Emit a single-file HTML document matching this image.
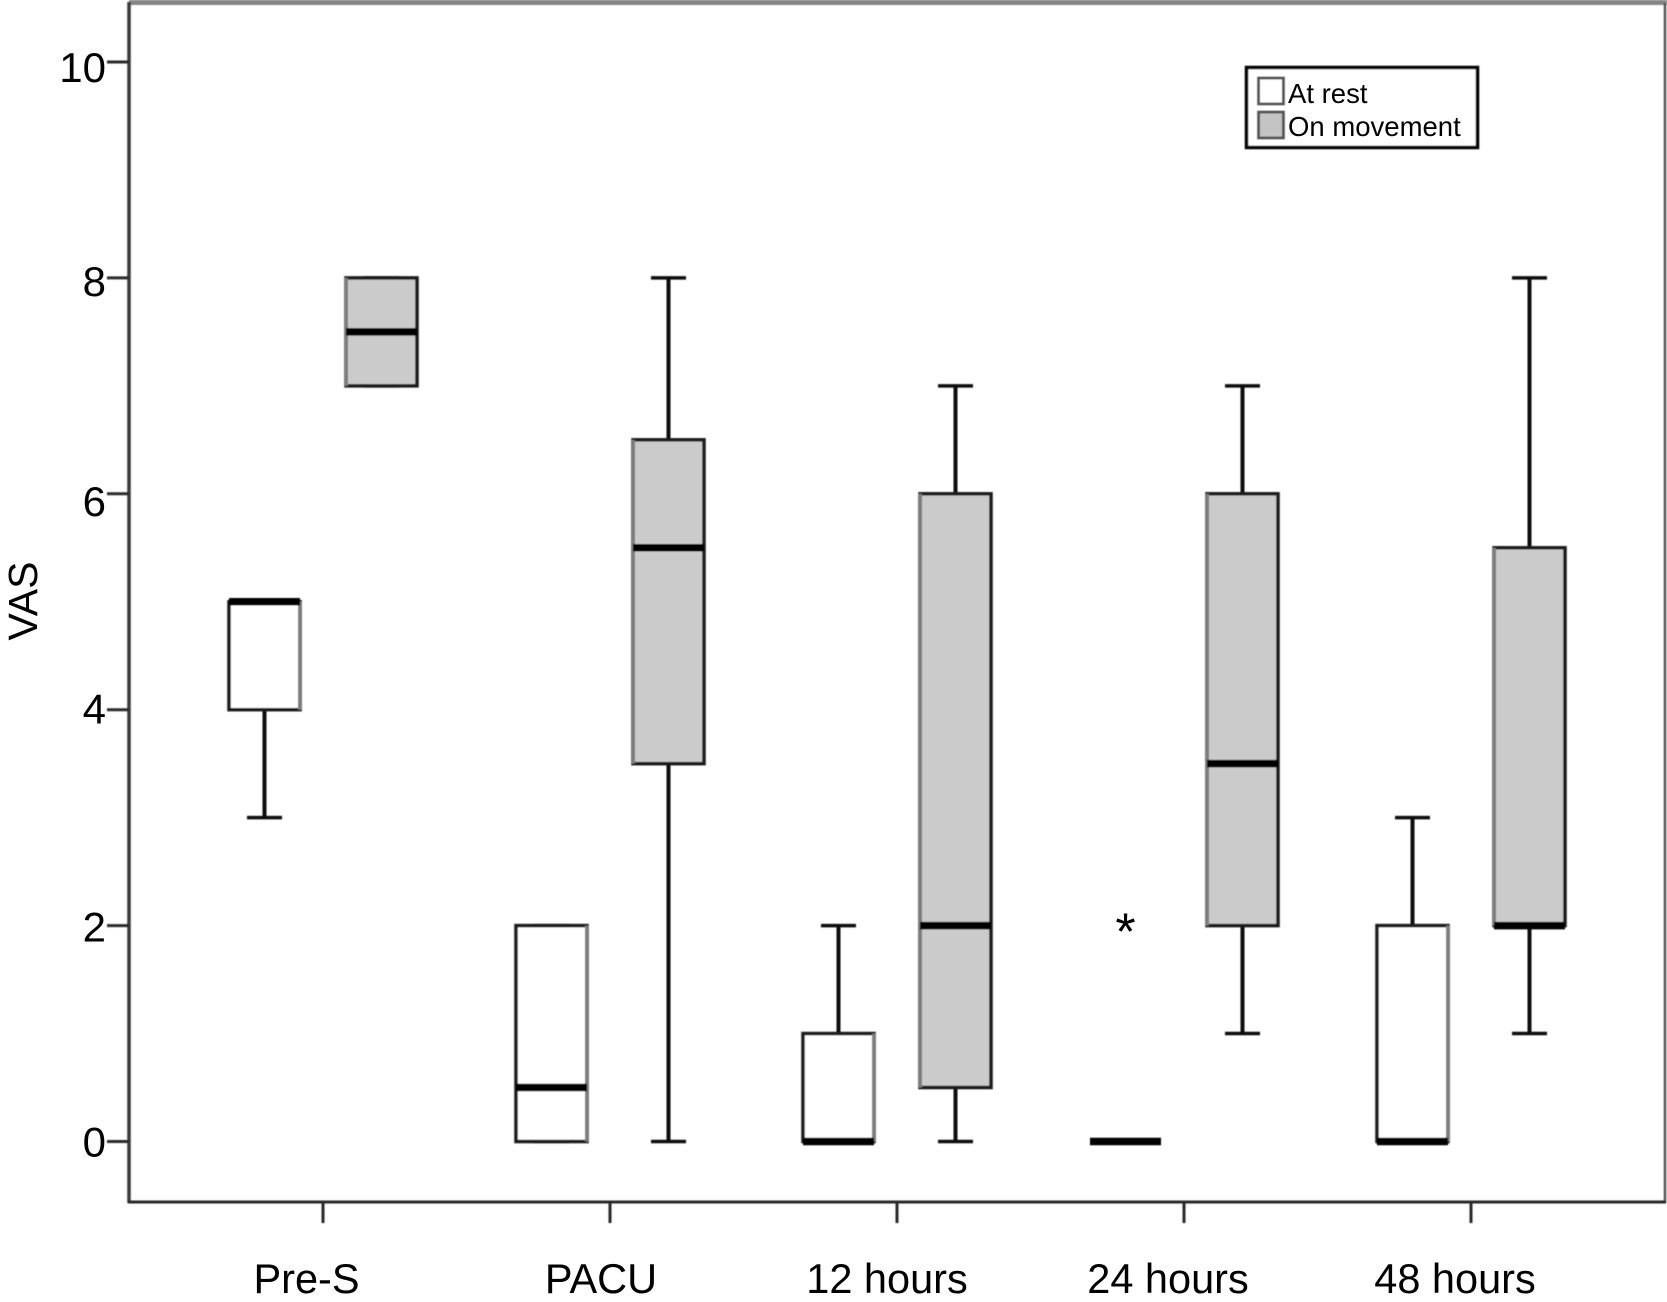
<!DOCTYPE html>
<html lang="en">
<head>
<meta charset="utf-8">
<title>VAS box plot</title>
<style>
html,body{margin:0;padding:0;background:#fff;width:1667px;height:1302px;overflow:hidden}
svg{display:block}
text{font-family:"Liberation Sans",Arial,sans-serif;fill:#000}
</style>
</head>
<body>
<svg id="chart" xmlns="http://www.w3.org/2000/svg" width="1667" height="1302" viewBox="0 0 1667 1302">
  <defs><filter id="soft" x="-2%" y="-2%" width="104%" height="104%"><feGaussianBlur stdDeviation="0.55"/></filter></defs>
  <g id="root" filter="url(#soft)"></g>
  <g id="labels"></g>
</svg>
<script>
const categories = ["Pre-S", "PACU", "12 hours", "24 hours", "48 hours"];
const yTicks = [0, 2, 4, 6, 8, 10];
const yTickLabels = ["0", "2", "4", "6", "8", "10"];
const restMin = [3, 0, 0, 0, 0];
const restQ1 = [4, 0, 0, 0, 0];
const restMedian = [5, 0.5, 0, 0, 0];
const restQ3 = [5, 2, 1, 0, 2];
const restMax = [5, 2, 2, 0, 3];
const moveMin = [7, 0, 0, 1, 1];
const moveQ1 = [7, 3.5, 0.5, 2, 2];
const moveMedian = [7.5, 5.5, 2, 3.5, 2];
const moveQ3 = [8, 6.5, 6, 6, 5.5];
const moveMax = [8, 8, 7, 7, 8];
const restOutliers = [[], [], [], [2], []];
const moveOutliers = [[], [], [], [], []];

const NS = "http://www.w3.org/2000/svg";
const root = document.getElementById("root");
const labels = document.getElementById("labels");
// Hand-placed label nudges seen in the figure (layout only, not data)
const xLabelNudge = [-16.5, -9, -10, -16, -16];
const yLabelNudge = [15, 16, 14, 22, 18, 20];
function yScale(v) { return 1141.5 - 107.95 * v; }
function xScale(i) { return 323 + 287 * i; }
function mk(tag, attrs, parent) {
  const el = document.createElementNS(NS, tag);
  for (const k in attrs) el.setAttribute(k, attrs[k]);
  (parent || root).appendChild(el);
  return el;
}
function line(x1, y1, x2, y2, stroke, width, parent) {
  return mk("line", { x1, y1, x2, y2, stroke, "stroke-width": width }, parent);
}

// Frame
const frameTop = line(129, 2.5, 1667, 2.5, "#858585", 5);


const frameRight = line(1665, 3, 1665, 1203, "#555", 2.5);


const yAxis = line(129, 2, 129, 1203, "#3a3a3a", 3.5);


const xAxis = line(128, 1202, 1666, 1202, "#2a2a2a", 3);



// Y ticks
yTicks.forEach(function (v, i) {
  const tick = line(107, yScale(v), 129, yScale(v), "#2a2a2a", 3);
  
  
  const label = mk("text", { x: 106, y: yScale(v) + yLabelNudge[i], "text-anchor": "end", "font-size": 42 }, labels);
  
  
  label.textContent = yTickLabels[i];
});

// Y title
const yTitle = mk("text", { transform: "translate(37 601) rotate(-90)", "text-anchor": "middle", "font-size": 41 }, labels);


yTitle.textContent = "VAS";

// X ticks
categories.forEach(function (c, i) {
  const tick = line(xScale(i), 1202, xScale(i), 1223, "#2a2a2a", 3);
  
  
  const label = mk("text", { x: xScale(i) + xLabelNudge[i], y: 1293, "text-anchor": "middle", "font-size": 41.5 }, labels);
  
  
  label.textContent = c;
});

// Boxes
function drawBox(cx, lo, q1, med, q3, hi, fill, edgeSide, name) {
  const g = mk("g", {});
  
  
  const halfW = 35.5, capHalf = 17.5;
  const sw = 3.5;
  if (hi > q3) {
    line(cx, yScale(hi), cx, yScale(q3), "#111", 4, g);
  }
  if (lo < q1) {
    line(cx, yScale(q1), cx, yScale(lo), "#111", 4, g);
  }
  line(cx - capHalf, yScale(hi), cx + capHalf, yScale(hi), "#111", 3.5, g);
  line(cx - capHalf, yScale(lo), cx + capHalf, yScale(lo), "#111", 3.5, g);
  if (q3 > q1) {
    mk("rect", {
      x: cx - halfW, y: yScale(q3), width: halfW * 2, height: yScale(q1) - yScale(q3),
      fill: fill, stroke: "#1c1c1c", "stroke-width": sw
    }, g);
    const ex = cx + edgeSide * halfW;
    line(ex, yScale(q3), ex, yScale(q1), "#7d7d7d", 4, g);
  }
  line(cx - halfW, yScale(med), cx + halfW, yScale(med), "#000", 7.5, g);
}

categories.forEach(function (c, i) {
  const slug = c.toLowerCase().replace(/ /g, "-");
  const rx = xScale(i) - 58.5;
  const mx = xScale(i) + 58.5;
  drawBox(rx, restMin[i], restQ1[i], restMedian[i], restQ3[i], restMax[i], "#fff", 1, "box-rest-" + slug);
  drawBox(mx, moveMin[i], moveQ1[i], moveMedian[i], moveQ3[i], moveMax[i], "#cbcbcb", -1, "box-movement-" + slug);
  restOutliers[i].forEach(function (v) {
    const o = mk("text", { x: rx, y: yScale(v) + 24, "text-anchor": "middle", "font-size": 52 }, labels);
    
    
    o.textContent = "*";
  });
  moveOutliers[i].forEach(function (v) {
    const o = mk("text", { x: mx, y: yScale(v) + 24, "text-anchor": "middle", "font-size": 52 }, labels);
    
    
    o.textContent = "*";
  });
});

// Legend
const legend = mk("g", {});


const legendBox = mk("rect", { x: 1246.5, y: 67.5, width: 231, height: 80, fill: "#fff", stroke: "#000", "stroke-width": 3.5 }, legend);


const swatchRest = mk("rect", { x: 1258.5, y: 78, width: 25, height: 26, fill: "#fff", stroke: "#555", "stroke-width": 3 }, legend);


const swatchMove = mk("rect", { x: 1258.5, y: 112, width: 25, height: 26, fill: "#c4c4c4", stroke: "#555", "stroke-width": 3 }, legend);


const legendRest = mk("text", { x: 1288, y: 103, "font-size": 27.5 }, labels);


legendRest.textContent = "At rest";
const legendMove = mk("text", { x: 1288, y: 136, "font-size": 27.5 }, labels);


legendMove.textContent = "On movement";
</script>
</body>
</html>
